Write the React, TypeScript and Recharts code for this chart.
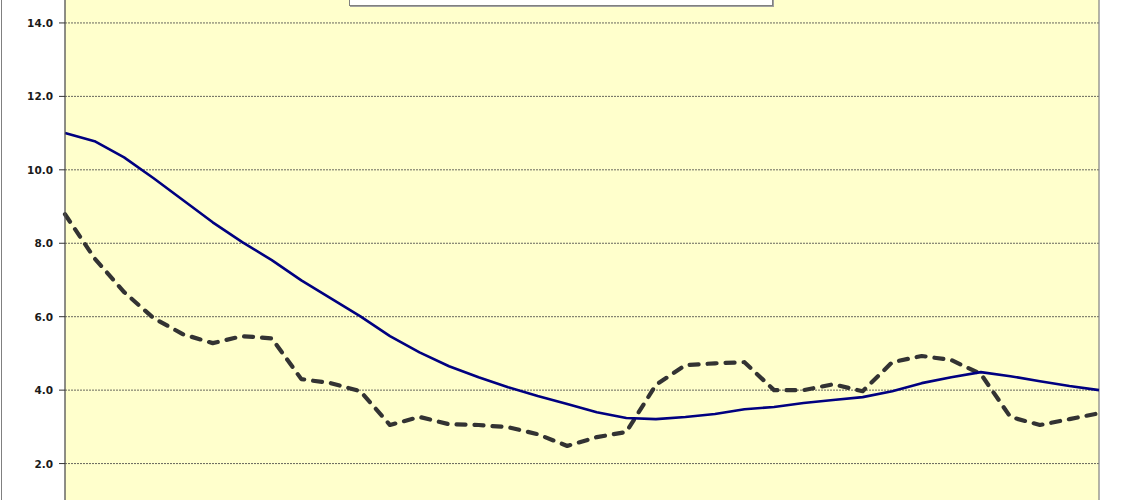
import React from "react";
import { LineChart, Line, XAxis, YAxis, CartesianGrid, Legend, ReferenceLine } from "recharts";

const categories: string[] = [
  "1", "2", "3", "4", "5", "6", "7", "8", "9", "10", "11", "12",
  "13", "14", "15", "16", "17", "18", "19", "20", "21", "22", "23", "24",
  "25", "26", "27", "28", "29", "30", "31", "32", "33", "34", "35", "36",
];

const trendValues: number[] = [
  11.0, 10.78, 10.34, 9.77, 9.17, 8.57, 8.03, 7.54, 6.99, 6.5, 6.01, 5.47,
  5.03, 4.65, 4.35, 4.08, 3.84, 3.62, 3.4, 3.24, 3.21, 3.27, 3.35, 3.48,
  3.54, 3.65, 3.73, 3.81, 3.97, 4.19, 4.35, 4.49, 4.38, 4.24, 4.11, 4.0,
];

const actualValues: number[] = [
  8.79, 7.59, 6.67, 5.96, 5.52, 5.28, 5.47, 5.41, 4.3, 4.19, 3.97, 3.05,
  3.27, 3.07, 3.05, 2.99, 2.8, 2.48, 2.72, 2.86, 4.14, 4.68, 4.73, 4.76,
  4.0, 4.0, 4.16, 3.97, 4.76, 4.93, 4.82, 4.44, 3.27, 3.05, 3.21, 3.37,
];

const yTicks: number[] = [0, 2, 4, 6, 8, 10, 12, 14, 16];

const seriesNames = { trend: "Trend", actual: "Actual" };

const data = categories.map((c, i) => ({
  name: c,
  trend: trendValues[i],
  actual: actualValues[i],
}));

const renderLegend = () => (
  <div
    style={{
      width: 422,
      height: 40,
      background: "#ffffff",
      border: "1px solid #808080",
      boxShadow: "1px 1px 0 #a0a0a0",
      display: "flex",
      alignItems: "center",
      justifyContent: "center",
      gap: 40,
      fontFamily: "DejaVu Sans",
      fontSize: 11,
      fontWeight: "bold",
      color: "#222",
    }}
  >
    <span style={{ display: "flex", alignItems: "center", gap: 6 }}>
      <svg width={30} height={8}>
        <line x1={0} y1={4} x2={30} y2={4} stroke="#000080" strokeWidth={2.5} />
      </svg>
      {seriesNames.trend}
    </span>
    <span style={{ display: "flex", alignItems: "center", gap: 6 }}>
      <svg width={30} height={8}>
        <line x1={0} y1={4} x2={30} y2={4} stroke="#333333" strokeWidth={4} strokeDasharray="8 5" />
      </svg>
      {seriesNames.actual}
    </span>
  </div>
);

const YTick = (props: any) => {
  const { x, y, payload } = props;
  return (
    <text
      x={x}
      y={y}
      dy={4}
      textAnchor="end"
      fill="#1a1a1a"
      style={{ fontFamily: "DejaVu Sans", fontWeight: 700, fontSize: 10.5 }}
    >
      {Number(payload.value).toFixed(1)}
    </text>
  );
};

export default function App() {
  return (
    <div
      style={{
        position: "fixed",
        left: 0,
        top: 0,
        width: 1140,
        height: 500,
        overflow: "hidden",
        background: "#ffffff",
        fontFamily: "DejaVu Sans",
      }}
    >
      <div
        style={{
          position: "absolute",
          left: 1,
          top: -80,
          width: 1160,
          height: 700,
          border: "1px solid #808080",
          boxSizing: "border-box",
          background: "#ffffff",
        }}
      >
        <LineChart
          width={1158}
          height={698}
          data={data}
          margin={{ top: 28.5, right: 61, bottom: 52, left: 0 }}
        >
          <CartesianGrid
            horizontal={true}
            vertical={false}
            fill="#FFFFCC"
            stroke="#404040"
            strokeDasharray="2 1"
            strokeWidth={0.8}
          />
          <XAxis dataKey="name" height={30} axisLine={false} tickLine={false} tick={false} />
          <YAxis
            width={63}
            domain={[0, 16]}
            ticks={yTicks}
            interval={0}
            axisLine={{ stroke: "#505050", strokeWidth: 1.3 }}
            tickLine={{ stroke: "#333333" }}
            tickSize={6}
            tickMargin={6}
            tick={<YTick />}
          />
          <ReferenceLine x={categories[categories.length - 1]} stroke="#808080" strokeWidth={1.2} />
          <Legend
            layout="horizontal"
            verticalAlign="middle"
            align="center"
            content={renderLegend}
            wrapperStyle={{ position: "absolute", left: 347, top: 43, width: 424, height: 42 }}
          />
          <Line
            type="linear"
            dataKey="actual"
            name={seriesNames.actual}
            stroke="#333333"
            strokeWidth={4.2}
            strokeDasharray="9 9"
            strokeLinecap="round"
            strokeLinejoin="round"
            dot={false}
            isAnimationActive={false}
          />
          <Line
            type="linear"
            dataKey="trend"
            name={seriesNames.trend}
            stroke="#000080"
            strokeWidth={2.6}
            strokeLinejoin="round"
            dot={false}
            isAnimationActive={false}
          />
        </LineChart>
      </div>
    </div>
  );
}
